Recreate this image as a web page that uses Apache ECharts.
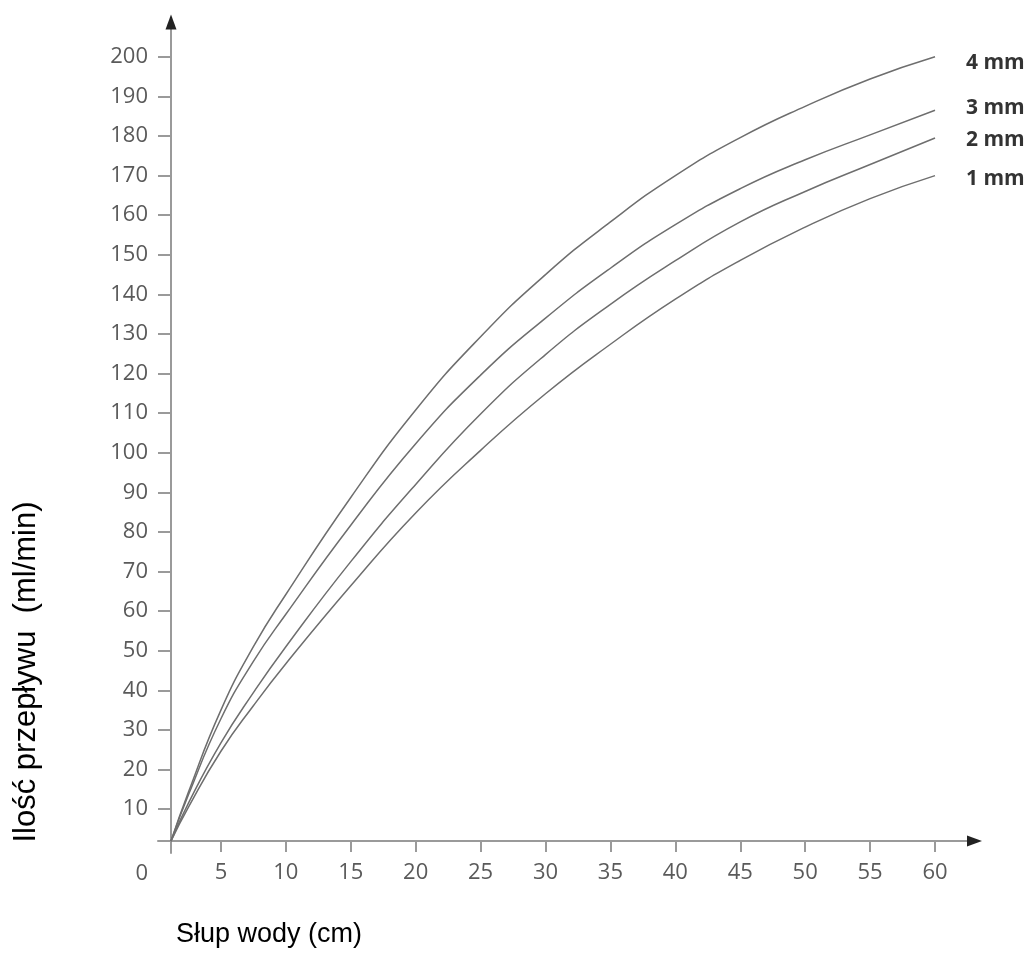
<!DOCTYPE html>
<html>
<head>
<meta charset="utf-8">
<script src="https://cdn.jsdelivr.net/npm/echarts@6/dist/echarts.min.js"></script>
<style>
html, body { margin: 0; padding: 0; background: #fff; }
#chart { width: 1036px; height: 953px; }
</style>
</head>
<body>
<div id="chart"></div>
<script>
// water column (cm) where the curves were read
var waterColumn = [1.15, 2.5, 5, 7.5, 10, 15, 20, 25, 30, 35, 40, 45, 50, 55, 60];

// flow (ml/min) per nozzle size
var flow4mm = [1.9, 14.3, 35, 51, 64.2, 88.7, 110.8, 129.3, 145, 158.3, 170, 179.6, 187.5, 194.4, 200];
var flow3mm = [1.9, 13.6, 32.8, 47.3, 59.2, 81.7, 102.3, 119.6, 134, 146.6, 157.6, 166.7, 174, 180.3, 186.5];
var flow2mm = [1.9, 11.5, 26.7, 39.4, 51, 72.5, 92, 109.8, 124.8, 137.5, 148.5, 158.3, 166, 172.8, 179.5];
var flow1mm = [1.9, 10.5, 24.6, 36.1, 46.7, 66.4, 84.8, 100.6, 114.9, 127.4, 138.8, 148.6, 157, 164.2, 170];

var seriesNames = ['4 mm', '3 mm', '2 mm', '1 mm'];

// tick labels
var xTicks = [5, 10, 15, 20, 25, 30, 35, 40, 45, 50, 55, 60];
var yTicks = [10, 20, 30, 40, 50, 60, 70, 80, 90, 100, 110, 120, 130, 140, 150, 160, 170, 180, 190, 200];

var xTitle = 'Słup wody (cm)';
var yTitle = 'Ilość przepływu  (ml/min)';

function pairs(ys) {
    var out = [];
    for (var i = 0; i < ys.length; i++) {
        out.push([waterColumn[i], ys[i]]);
    }
    return out;
}

var curveData = [flow4mm, flow3mm, flow2mm, flow1mm];
var labelShift = [[31, 6], [31, -2], [31, 2], [31, 3]];

var axisColor = '#9a9a9a';
var labelFont = 'Open Sans';
var xRange = { min: 0.154, max: 63.04 };
var yRange = { min: -1.1, max: 208.8 };

var series = [];
for (var i = 0; i < curveData.length; i++) {
    series.push({
        name: seriesNames[i],
        type: 'line',
        data: pairs(curveData[i]),
        smooth: true,
        symbol: 'none',
        lineStyle: { color: '#6e6e6e', width: 1.5 },
        endLabel: {
            show: true,
            formatter: '{a}',
            distance: 0,
            offset: labelShift[i],
            color: '#333',
            fontFamily: labelFont,
            fontWeight: 'bold',
            fontSize: 21
        }
    });
}

// the dark arrow heads sit on a second, line-less copy of each axis
var arrowAxis = {
    type: 'value',
    splitLine: { show: false },
    axisTick: { show: false },
    axisLabel: { show: false },
    axisLine: {
        show: true,
        onZero: false,
        symbol: ['none', 'triangle'],
        symbolSize: [11, 15],
        lineStyle: { color: '#222', width: 0 }
    }
};

var myChart = echarts.init(document.getElementById('chart'));
myChart.setOption({
    animation: false,
    grid: { left: 158, right: 61.5, top: 22, bottom: 100, containLabel: false },
    xAxis: [
        {
            type: 'value',
            min: xRange.min,
            max: xRange.max,
            position: 'bottom',
            offset: -12,
            splitLine: { show: false },
            axisLine: {
                onZero: false,
                lineStyle: { color: axisColor, width: 2 }
            },
            axisTick: {
                customValues: xTicks,
                length: 11,
                lineStyle: { color: axisColor, width: 2 }
            },
            axisLabel: {
                customValues: xTicks,
                margin: 21,
                color: '#5a5a5a',
                fontFamily: labelFont,
                fontSize: 22
            }
        },
        Object.assign({}, arrowAxis, { min: xRange.min, max: xRange.max, position: 'bottom', offset: -12 })
    ],
    yAxis: [
        {
            type: 'value',
            min: yRange.min,
            max: yRange.max,
            position: 'left',
            offset: -13,
            splitLine: { show: false },
            axisLine: {
                show: true,
                onZero: false,
                lineStyle: { color: axisColor, width: 2 }
            },
            axisTick: {
                show: true,
                customValues: yTicks,
                length: 13,
                lineStyle: { color: axisColor, width: 2 }
            },
            axisLabel: {
                customValues: yTicks,
                margin: 23,
                padding: [4, 0, 0, 0],
                color: '#5a5a5a',
                fontFamily: labelFont,
                fontSize: 22
            }
        },
        Object.assign({}, arrowAxis, { min: yRange.min, max: yRange.max, position: 'left', offset: -13 })
    ],
    graphic: [
        {
            type: 'text',
            x: 148,
            y: 874,
            style: {
                text: '0',
                textAlign: 'right',
                textVerticalAlign: 'middle',
                fontFamily: labelFont,
                fontSize: 22,
                fill: '#5a5a5a'
            }
        },
        {
            type: 'text',
            x: 176,
            y: 935,
            style: {
                text: xTitle,
                textAlign: 'left',
                textVerticalAlign: 'middle',
                fontFamily: 'Liberation Sans',
                fontSize: 27,
                fill: '#000'
            }
        },
        {
            type: 'text',
            x: 26,
            y: 672,
            rotation: Math.PI / 2,
            style: {
                text: yTitle,
                textAlign: 'center',
                textVerticalAlign: 'middle',
                fontFamily: 'Liberation Sans',
                fontSize: 31,
                fill: '#000'
            }
        }
    ],
    series: series
});
</script>
</body>
</html>
